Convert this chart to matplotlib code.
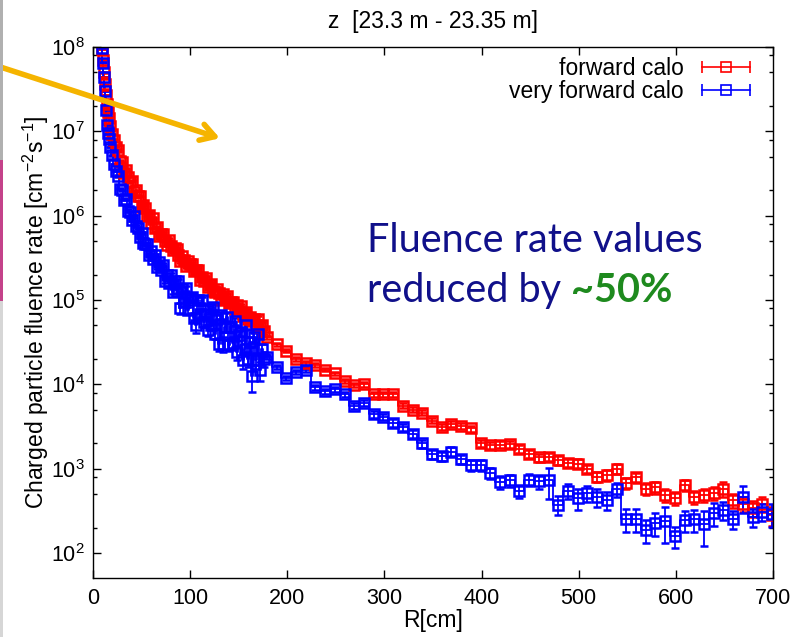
import numpy as np
import matplotlib
matplotlib.use('Agg')
import matplotlib.pyplot as plt
from matplotlib.lines import Line2D
from matplotlib.legend_handler import HandlerLine2D
from matplotlib.patches import Rectangle, FancyArrowPatch
from matplotlib.ticker import FixedLocator, LogFormatterSciNotation, MultipleLocator, NullFormatter

plt.rcParams['font.family'] = ['Liberation Sans', 'DejaVu Sans']
plt.rcParams['mathtext.fontset'] = 'custom'
plt.rcParams['mathtext.rm'] = 'Liberation Sans'
plt.rcParams['mathtext.it'] = 'Liberation Sans:italic'
plt.rcParams['mathtext.bf'] = 'Liberation Sans:bold'

# Radial bins (cm): fine binning close to the beam pipe, 10 cm bins further out
r_core = [9, 10, 11, 12, 13, 14, 15, 16, 18, 20, 22, 24]
r_near = [26, 28, 30, 32, 34, 36, 38, 40, 42, 44,
          46, 48, 50, 52, 54, 56, 58, 60, 62, 64,
          66, 68, 70, 72, 74, 76, 78, 80, 82, 84,
          86, 88, 90, 92, 94, 96, 98, 100, 102, 104,
          106, 108, 110, 112, 114, 116, 118, 120, 122, 124,
          126, 128, 130, 132, 134, 136, 138, 140, 142, 144,
          146, 148, 150, 152, 154, 156, 158, 160, 162, 164,
          166, 168, 170, 172, 174, 176]
r_far = [179, 189, 199, 209, 219, 229, 239, 249, 259, 269,
         279, 289, 299, 309, 319, 329, 339, 349, 359, 369,
         379, 389, 399, 409, 419, 429, 439, 449, 459, 469,
         479, 489, 499, 509, 519, 529, 539, 549, 559, 569,
         579, 589, 599, 609, 619, 629, 639, 649, 659, 669,
         679, 689, 699]

# Charged particle fluence rate [cm^-2 s^-1] - forward calo
fwd_core = [9.5e7, 7.0e7, 5.0e7, 3.6e7, 2.7e7, 2.1e7, 1.7e7, 1.45e7, 1.15e7, 9.3e6, 7.9e6, 6.6e6]
fwd_near = [6.0e6, 4.5e6, 4.3e6, 3.2e6, 3.5e6, 2.9e6, 2.5e6, 2.6e6, 1.9e6, 2.0e6,
            1.7e6, 1.7e6, 1.26e6, 1.35e6, 1.25e6, 1.0e6, 1.02e6, 8.3e5, 9.3e5, 7.2e5,
            7.4e5, 5.8e5, 6.0e5, 6.1e5, 5.0e5, 4.5e5, 5.2e5, 4.4e5, 3.9e5, 4.1e5,
            4.0e5, 3.4e5, 2.9e5, 3.3e5, 3.0e5, 2.5e5, 2.9e5, 2.65e5, 2.7e5, 2.2e5,
            2.25e5, 2.3e5, 1.75e5, 1.9e5, 1.7e5, 1.83e5, 1.42e5, 1.52e5, 1.54e5, 1.27e5,
            1.23e5, 1.35e5, 1.21e5, 1.0e5, 1.18e5, 1.02e5, 1.12e5, 9.1e4, 9.4e4, 9.5e4,
            7.8e4, 8.7e4, 7.5e4, 8.4e4, 6.4e4, 6.9e4, 7.3e4, 5.9e4, 6.3e4, 5.6e4,
            6.0e4, 5.0e4, 5.9e4, 4.8e4, 5.0e4, 4.3e4]
fwd_far = [3.6e4, 3.0e4, 2.5e4, 2.0e4, 1.8e4, 1.7e4, 1.5e4, 1.35e4, 1.1e4, 9.8e3,
           1.0e4, 7.6e3, 7.6e3, 7.6e3, 5.6e3, 5.0e3, 4.6e3, 3.7e3, 3.1e3, 3.4e3,
           3.2e3, 3.0e3, 2.0e3, 1.9e3, 1.93e3, 1.95e3, 1.73e3, 1.5e3, 1.36e3, 1.38e3,
           1.26e3, 1.18e3, 1.15e3, 1.0e3, 800, 840, 1000, 670, 790, 580,
           600, 485, 450, 640, 465, 485, 520, 580, 425, 385,
           340, 385, 280]

# very forward calo
vfwd_core = [9.8e7, 6.5e7, 4.4e7, 3.0e7, 1.8e7, 1.2e7, 9.5e6, 8.2e6, 6.5e6, 5.2e6, 4.1e6, 3.4e6]
vfwd_near = [2.95e6, 2.1e6, 2.0e6, 1.55e6, 1.58e6, 1.15e6, 1.12e6, 8.9e5, 9.8e5, 7.6e5,
             7.2e5, 5.6e5, 6.2e5, 4.7e5, 4.6e5, 4.6e5, 3.4e5, 3.8e5, 3.1e5, 3.4e5,
             2.45e5, 2.8e5, 2.24e5, 2.6e5, 1.7e5, 2.0e5, 1.58e5, 2.0e5, 1.26e5, 1.66e5,
             1.29e5, 1.66e5, 8.1e4, 1.35e5, 9.5e4, 1.38e5, 7.6e4, 1.05e5, 1.1e5, 6.2e4,
             5.0e4, 1.0e5, 6.8e4, 1.0e5, 5.5e4, 6.9e4, 4.4e4, 7.9e4, 5.0e4, 8.3e4,
             4.0e4, 6.0e4, 3.0e4, 6.6e4, 3.0e4, 4.8e4, 6.3e4, 2.9e4, 4.8e4, 3.1e4,
             5.6e4, 2.4e4, 3.8e4, 4.2e4, 1.95e4, 2.6e4, 5.1e4, 2.0e4, 3.2e4, 1.26e4,
             3.6e4, 1.95e4, 4.0e4, 1.48e4, 2.6e4, 2.0e4]
vfwd_far = [2.1e4, 1.6e4, 1.2e4, 1.4e4, 1.5e4, 9.3e3, 8.3e3, 8.7e3, 7.6e3, 5.6e3,
            6.0e3, 4.4e3, 4.1e3, 3.5e3, 3.1e3, 2.6e3, 2.0e3, 1.5e3, 1.4e3, 1.6e3,
            1.3e3, 1.1e3, 1.1e3, 890, 700, 730, 550, 745, 710, 730,
            375, 550, 445, 510, 465, 425, 570, 255, 255, 190,
            230, 240, 160, 245, 250, 220, 300, 325, 255, 465,
            270, 310, 290]

# relative statistical errors
fwd_err_core = [0.01, 0.01, 0.01, 0.01, 0.01, 0.01, 0.01, 0.01, 0.01, 0.01, 0.01, 0.01]
fwd_err_near = [0.02, 0.02, 0.02, 0.02, 0.02, 0.02, 0.02, 0.02, 0.02, 0.02,
                0.02, 0.02, 0.03, 0.02, 0.03, 0.03, 0.03, 0.03, 0.03, 0.03,
                0.03, 0.03, 0.03, 0.04, 0.03, 0.04, 0.04, 0.04, 0.04, 0.04,
                0.04, 0.04, 0.04, 0.05, 0.04, 0.05, 0.05, 0.05, 0.05, 0.05,
                0.05, 0.05, 0.05, 0.06, 0.05, 0.06, 0.06, 0.06, 0.06, 0.06,
                0.06, 0.06, 0.06, 0.07, 0.06, 0.07, 0.07, 0.07, 0.07, 0.07,
                0.07, 0.07, 0.07, 0.08, 0.07, 0.08, 0.08, 0.08, 0.08, 0.08,
                0.08, 0.08, 0.09, 0.08, 0.09, 0.09]
fwd_err_far = [0.04, 0.04, 0.04, 0.05, 0.05, 0.05, 0.05, 0.05, 0.06, 0.06,
               0.06, 0.06, 0.06, 0.06, 0.07, 0.07, 0.07, 0.07, 0.08, 0.08,
               0.08, 0.08, 0.09, 0.09, 0.09, 0.09, 0.10, 0.10, 0.11, 0.11,
               0.11, 0.12, 0.12, 0.12, 0.13, 0.14, 0.13, 0.15, 0.14, 0.16,
               0.16, 0.17, 0.18, 0.15, 0.18, 0.17, 0.18, 0.20, 0.19, 0.21,
               0.22, 0.20, 0.25]
vfwd_err_core = [0.01, 0.01, 0.01, 0.01, 0.01, 0.01, 0.01, 0.01, 0.01, 0.01, 0.01, 0.01]
vfwd_err_near = [0.02, 0.02, 0.02, 0.02, 0.02, 0.03, 0.02, 0.03, 0.03, 0.03,
                 0.03, 0.03, 0.03, 0.04, 0.03, 0.04, 0.04, 0.04, 0.04, 0.04,
                 0.05, 0.04, 0.05, 0.05, 0.06, 0.05, 0.06, 0.05, 0.07, 0.06,
                 0.07, 0.06, 0.15, 0.07, 0.10, 0.07, 0.10, 0.08, 0.08, 0.12,
                 0.18, 0.08, 0.10, 0.08, 0.12, 0.10, 0.14, 0.09, 0.12, 0.09,
                 0.14, 0.10, 0.18, 0.10, 0.20, 0.12, 0.10, 0.15, 0.12, 0.16,
                 0.10, 0.18, 0.14, 0.12, 0.22, 0.16, 0.10, 0.20, 0.14, 0.35,
                 0.14, 0.22, 0.12, 0.25, 0.16, 0.20]
vfwd_err_far = [0.05, 0.06, 0.06, 0.06, 0.06, 0.07, 0.07, 0.07, 0.08, 0.08,
                0.08, 0.09, 0.09, 0.10, 0.10, 0.11, 0.11, 0.12, 0.13, 0.12,
                0.13, 0.14, 0.14, 0.16, 0.17, 0.16, 0.18, 0.17, 0.18, 0.40,
                0.25, 0.20, 0.28, 0.22, 0.25, 0.24, 0.20, 0.30, 0.30, 0.30,
                0.30, 0.45, 0.28, 0.28, 0.28, 0.45, 0.30, 0.25, 0.25, 0.35,
                0.25, 0.22, 0.30]

r_all = r_core + r_near + r_far
series = [
    ('forward calo', '#ff0000', fwd_core + fwd_near + fwd_far,
     fwd_err_core + fwd_err_near + fwd_err_far),
    ('very forward calo', '#0000ff', vfwd_core + vfwd_near + vfwd_far,
     vfwd_err_core + vfwd_err_near + vfwd_err_far),
]

fig = plt.figure(figsize=(7.94, 6.37), dpi=100)
ax = fig.add_axes([0.1171, 0.0926, 0.8564, 0.8336])

handles = []
handler_map = {}
for label, col, v, err in series:
    r = np.array(r_all, dtype=float)
    v = np.array(v, dtype=float)
    e = np.array(err) * v
    # histogram outline through the bin centres, then markers with error bars
    ax.step(r, v, where='mid', color=col, lw=1.3)
    ax.errorbar(r, v, yerr=e, fmt='s', ms=7.6, mfc='none', mec=col, mew=1.8,
                ecolor=col, elinewidth=1.3, capsize=2.8, capthick=1.3)
    # gnuplot-like key: horizontal bar with end caps and a box in the middle
    bar = Line2D([], [], color=col, lw=1.2, marker='|', ms=8, mew=1.2)
    box = Line2D([], [], color=col, lw=0, marker='s', ms=7.2, mfc='none', mew=1.2)
    handler_map[bar] = HandlerLine2D(numpoints=2)
    handler_map[box] = HandlerLine2D(numpoints=1)
    handles.append(((bar, box), label))

ax.set_yscale('log')
ax.set_xlim(0, 700)
ax.set_ylim(50.6, 1e8)
ax.xaxis.set_major_locator(MultipleLocator(100))
decades = [1e2, 1e3, 1e4, 1e5, 1e6, 1e7, 1e8]
ax.yaxis.set_major_locator(FixedLocator(decades))
ax.yaxis.set_minor_locator(FixedLocator([d * s for d in decades[:-1] for s in (2, 5, 8)]))
ax.yaxis.set_major_formatter(LogFormatterSciNotation())
ax.yaxis.set_minor_formatter(NullFormatter())
ax.tick_params(which='both', direction='in', top=True, right=True, width=1.0,
               labelsize=15.5)
ax.tick_params(which='major', length=5.8)
ax.tick_params(which='minor', length=2.9)
ax.tick_params(axis='x', pad=7)
ax.tick_params(axis='y', pad=6)
for sp in ax.spines.values():
    sp.set_linewidth(1.0)

ax.set_xlabel('R[cm]', fontsize=16.5, labelpad=0)
ax.set_ylabel('Charged particle fluence rate [cm$^{-2}$s$^{-1}$]', fontsize=16.5, labelpad=0)
ax.set_title('z  [23.3 m - 23.35 m]', fontsize=16.5, pad=14)

leg = ax.legend([h for h, _ in handles], [l for _, l in handles], handler_map=handler_map,
                loc='upper right', bbox_to_anchor=(0.9897, 0.998), frameon=False,
                markerfirst=False, fontsize=16.5, handlelength=2.7, labelspacing=0.0,
                borderaxespad=0.0, handletextpad=0.5)

# statement about the reduction
t1 = fig.text(0.462, 0.604, 'Fluence rate values', fontsize=28.5, color='#10108a',
              family=['Lato', 'DejaVu Sans'], va='baseline', ha='left')
t2 = fig.text(0.462, 0.526, 'reduced by ', fontsize=28.5, color='#10108a',
              family=['Lato', 'DejaVu Sans'], va='baseline', ha='left')
ax.annotate('~50%', xy=(1, 0), xycoords=t2, va='bottom', ha='left', fontsize=28.5,
            color='#1e8a1e', fontweight='bold', family=['Lato', 'DejaVu Sans'])

# pointer arrow coming in from the left
fig.add_artist(FancyArrowPatch((0.0, 0.895), (0.277, 0.783), transform=fig.transFigure,
                               arrowstyle='->,head_length=10,head_width=6',
                               color='#f5b400', lw=4.0, shrinkA=0, shrinkB=0))

# thin strip of the neighbouring slide at the left border
fig.add_artist(Rectangle((0, 0.749), 3 / 794, 0.251, transform=fig.transFigure,
                         color='#b0b0b0', lw=0))
fig.add_artist(Rectangle((0, 0.527), 3 / 794, 0.222, transform=fig.transFigure,
                         color='#c4428a', lw=0))
fig.add_artist(Rectangle((0, 0.0), 3 / 794, 0.527, transform=fig.transFigure,
                         color='#d6d6d6', lw=0))

fig.savefig('out.png', dpi=100)
